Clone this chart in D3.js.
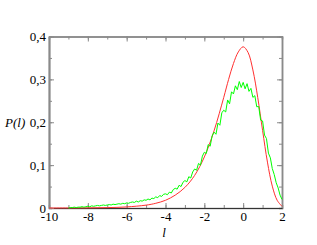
<!DOCTYPE html>
<html>
<head>
<meta charset="utf-8">
<script src="https://d3js.org/d3.v7.min.js"></script>
<style>
  body { margin: 0; background: #fff; }
  svg { font-family: "Liberation Serif", "DejaVu Serif", serif; }
  .frame line, .frame path { stroke: #8a8a8a; }
</style>
</head>
<body>
<div id="chart"></div>
<script>
// tick labels
var xTicks = [-10, -8, -6, -4, -2, 0, 2];
var yTicks = [0, 0.1, 0.2, 0.3, 0.4];
var yTickLabels = ["0", "0,1", "0,2", "0,3", "0,4"];

// red curve (smooth)
var redL = [-10, -9, -8, -7, -6, -5, -4.5, -4, -3.5, -3, -2.5, -2, -1.5, -1, -0.75, -0.5, -0.25, 0, 0.25, 0.5, 0.75, 1, 1.25, 1.5, 1.75, 2];
var redP = [0.0000, 0.0001, 0.0003, 0.0009, 0.0025, 0.0067, 0.011, 0.018, 0.030, 0.048, 0.076, 0.119, 0.180, 0.258, 0.300, 0.337, 0.364, 0.376, 0.363, 0.322, 0.258, 0.181, 0.107, 0.051, 0.018, 0.004];

// green curve (noisy), sampled every 0.1 from -9 to 2
var greenStart = -9, greenStep = 0.1;
var greenP = [
  0.000, 0.001, 0.001, 0.002, 0.001, 0.002, 0.002, 0.003, 0.002, 0.003,
  0.004, 0.003, 0.005, 0.004, 0.005, 0.006, 0.005, 0.006, 0.007, 0.006,
  0.007, 0.008, 0.007, 0.009, 0.008, 0.009, 0.010, 0.009, 0.011, 0.010,
  0.012, 0.011, 0.013, 0.014, 0.013, 0.016, 0.014, 0.017, 0.016, 0.019,
  0.018, 0.021, 0.019, 0.023, 0.022, 0.026, 0.024, 0.029, 0.027, 0.032,
  0.033, 0.031, 0.037, 0.035, 0.043, 0.046, 0.044, 0.053, 0.050, 0.060,
  0.064, 0.061, 0.073, 0.070, 0.084, 0.091, 0.088, 0.104, 0.100, 0.121,
  0.130, 0.127, 0.148, 0.144, 0.168, 0.177, 0.172, 0.198, 0.193, 0.222,
  0.228, 0.224, 0.252, 0.243, 0.271, 0.266, 0.285, 0.276, 0.295, 0.281,
  0.293, 0.278, 0.290, 0.272, 0.279, 0.258, 0.262, 0.236, 0.237, 0.205,
  0.203, 0.170, 0.162, 0.128, 0.117, 0.092, 0.078, 0.059, 0.047, 0.030,
  0.020
];

var width = 317, height = 245;
var mLeft = 49, mRight = 282, mTop = 36.5, mBottom = 208;
var serif = '"Liberation Serif", "DejaVu Serif", serif';

var svg = d3.select("#chart").append("svg")
    .attr("width", width)
    .attr("height", height);

var x = d3.scaleLinear().domain([-10, 2]).range([mLeft, mRight]);
var y = d3.scaleLinear().domain([0, 0.4]).range([mBottom, mTop]);

var minorX = d3.range(-10, 2.5, 1);
var minorY = d3.range(0, 0.42, 0.05);

/* minor ticks on all four sides */
var frame = svg.append("g").attr("class", "frame");
frame.append("g").attr("transform", `translate(0,${mBottom})`)
    .call(d3.axisBottom(x).tickValues(minorX).tickSize(-3).tickFormat(""));
frame.append("g").attr("transform", `translate(0,${mTop})`)
    .call(d3.axisTop(x).tickValues(minorX).tickSize(-3).tickFormat(""));
frame.append("g").attr("transform", `translate(${mLeft},0)`)
    .call(d3.axisLeft(y).tickValues(minorY).tickSize(-3).tickFormat(""));
frame.append("g").attr("transform", `translate(${mRight},0)`)
    .call(d3.axisRight(y).tickValues(minorY).tickSize(-3).tickFormat(""));

/* major ticks */
frame.append("g").attr("transform", `translate(0,${mTop})`)
    .call(d3.axisTop(x).tickValues(xTicks).tickSize(-5).tickSizeOuter(0).tickFormat(""));
frame.append("g").attr("transform", `translate(${mRight},0)`)
    .call(d3.axisRight(y).tickValues(yTicks).tickSize(-5).tickSizeOuter(0).tickFormat(""));

var xAxis = frame.append("g").attr("transform", `translate(0,${mBottom})`)
    .call(d3.axisBottom(x).tickValues(xTicks).tickSize(-5).tickSizeOuter(0)
        .tickPadding(4).tickFormat(d => String(d)));

var yAxis = frame.append("g").attr("transform", `translate(${mLeft},0)`)
    .call(d3.axisLeft(y).tickValues(yTicks).tickSize(-5).tickSizeOuter(0)
        .tickPadding(3).tickFormat((d, i) => yTickLabels[i]));

frame.selectAll(".tick text")
    .style("font-family", serif)
    .style("font-size", "13px")
    .style("font-weight", "normal")
    .style("fill", "#000");
frame.selectAll(".domain").style("stroke-width", 1.5);
yAxis.select(".domain").style("stroke-width", 2);
xAxis.select(".domain").style("stroke", "#333").style("stroke-width", 1.2);

/* curves */
var line = d3.line()
    .x(d => x(d[0]))
    .y(d => y(d[1]));

var greenData = greenP.map((p, i) => [greenStart + i * greenStep, p]);
var redData = redL.map((l, i) => [l, redP[i]]);

svg.append("path")
    .datum(redData)
    .attr("fill", "none")
    .attr("stroke", "#ff3030")
    .attr("stroke-width", 1)
    .attr("d", line.curve(d3.curveCatmullRom));

svg.append("path")
    .datum(greenData)
    .attr("fill", "none")
    .attr("stroke", "#00ff00")
    .attr("stroke-width", 1)
    .attr("d", line.curve(d3.curveLinear));

/* axis titles */
svg.append("text")
    .attr("x", 5).attr("y", 127)
    .style("font-family", serif)
    .style("font-size", "13px").style("font-style", "italic")
    .text("P(l)");

svg.append("text")
    .attr("x", 164).attr("y", 237)
    .attr("text-anchor", "middle")
    .style("font-family", serif)
    .style("font-size", "13px").style("font-style", "italic")
    .text("l");
</script>
</body>
</html>
